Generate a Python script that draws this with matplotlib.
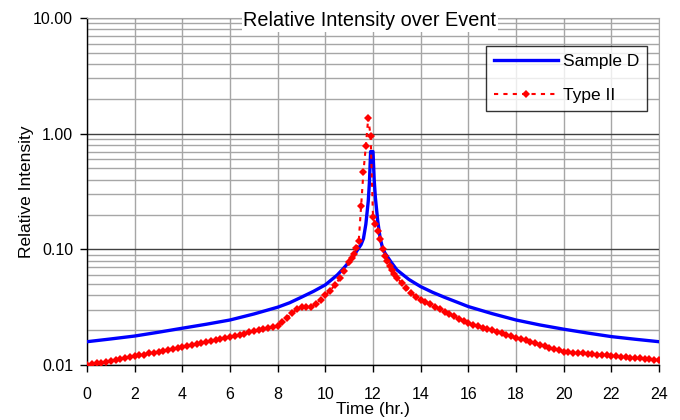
import matplotlib

matplotlib.use("Agg")
import matplotlib.pyplot as plt
from matplotlib.ticker import FixedLocator, LogLocator, NullFormatter

plt.rcParams["font.family"] = ["Liberation Sans", "DejaVu Sans"]

# Sample D (smooth curve, solid)
sample_t = [0, 1, 2, 3, 4, 5, 6, 7, 8, 8.5, 9, 9.5, 10, 10.5, 10.75, 11, 11.25,
            11.5, 11.6, 11.7, 11.8, 11.85, 11.9, 12.0, 12.05, 12.1, 12.2, 12.3,
            12.4, 12.5, 12.75, 13, 13.5, 14, 14.5, 15, 16, 17, 18, 19, 20, 21,
            22, 23, 24]
sample_v = [0.0159, 0.0168, 0.0178, 0.0192, 0.0208, 0.0225, 0.0245, 0.0276,
            0.0316, 0.0345, 0.0386, 0.0433, 0.0493, 0.0600, 0.0680, 0.0780,
            0.0920, 0.110, 0.124, 0.165, 0.26, 0.38, 0.70, 0.70, 0.40, 0.28,
            0.175, 0.125, 0.103, 0.093, 0.078, 0.0665, 0.055, 0.0476, 0.0425,
            0.0385, 0.032, 0.0278, 0.0245, 0.0222, 0.0204, 0.0189, 0.0176,
            0.0167, 0.0159]

# Type II (dense points with markers, dotted line)
type2_t = [0.0, 0.2, 0.4, 0.6, 0.8, 1.0, 1.2, 1.4, 1.6, 1.8,
           2.0, 2.2, 2.4, 2.6, 2.8, 3.0, 3.2, 3.4, 3.6, 3.8,
           4.0, 4.2, 4.4, 4.6, 4.8, 5.0, 5.2, 5.4, 5.6, 5.8,
           6.0, 6.2, 6.4, 6.6, 6.8, 7.0, 7.2, 7.4, 7.6, 7.8,
           8.0, 8.2, 8.4, 8.6, 8.8, 9.0, 9.2, 9.4, 9.6, 9.8,
           10.0, 10.2, 10.4, 10.6, 10.8,
           11.0, 11.1, 11.2, 11.3, 11.4, 11.5, 11.6, 11.7, 11.8, 11.9,
           12.0, 12.1, 12.2, 12.3, 12.4, 12.5, 12.6, 12.7, 12.8, 12.9,
           13.0, 13.2, 13.4, 13.6, 13.8,
           14.0, 14.2, 14.4, 14.6, 14.8, 15.0, 15.2, 15.4, 15.6, 15.8,
           16.0, 16.2, 16.4, 16.6, 16.8, 17.0, 17.2, 17.4, 17.6, 17.8,
           18.0, 18.2, 18.4, 18.6, 18.8, 19.0, 19.2, 19.4, 19.6, 19.8,
           20.0, 20.2, 20.4, 20.6, 20.8, 21.0, 21.2, 21.4, 21.6, 21.8,
           22.0, 22.2, 22.4, 22.6, 22.8, 23.0, 23.2, 23.4, 23.6, 23.8,
           24.0]
type2_v = [0.0100, 0.0102, 0.0104, 0.0105, 0.0107, 0.0109, 0.0111, 0.0113, 0.0115, 0.0117,
           0.0119, 0.0121, 0.0123, 0.0126, 0.0128, 0.0130, 0.0132, 0.0135, 0.0137, 0.0140,
           0.0142, 0.0145, 0.0148, 0.0151, 0.0155, 0.0158, 0.0161, 0.0165, 0.0168, 0.0172,
           0.0176, 0.0179, 0.0183, 0.0187, 0.0191, 0.0195, 0.0200, 0.0204, 0.0208, 0.0213,
           0.0218, 0.0237, 0.0257, 0.0279, 0.0303, 0.0316, 0.0316, 0.0316, 0.0340, 0.0368,
           0.0400, 0.0440, 0.0490, 0.0560, 0.0650,
           0.077, 0.084, 0.092, 0.102, 0.117, 0.238, 0.47, 0.78, 1.37, 0.95,
           0.19, 0.166, 0.143, 0.122, 0.101, 0.088, 0.079, 0.072, 0.066, 0.061,
           0.057, 0.051, 0.046, 0.042, 0.039,
           0.0368, 0.0351, 0.0335, 0.0319, 0.0304, 0.0290, 0.0277, 0.0264, 0.0252, 0.0240,
           0.0229, 0.0223, 0.0216, 0.0210, 0.0204, 0.0199, 0.0193, 0.0188, 0.0182, 0.0177,
           0.0172, 0.0168, 0.0163, 0.0158, 0.0154, 0.0150, 0.0145, 0.0141, 0.0137, 0.0134,
           0.0130, 0.0129, 0.0128, 0.0127, 0.0126, 0.0125, 0.0124, 0.0123, 0.0122, 0.0121,
           0.0120, 0.0119, 0.0118, 0.0117, 0.0116, 0.0115, 0.0114, 0.0113, 0.0112, 0.0111,
           0.0110]

x_ticks = list(range(0, 25, 2))
y_ticks = [0.01, 0.1, 1, 10]
y_labels = ["0.01", "0.10", "1.00", "10.00"]

fig = plt.figure(figsize=(6.8, 4.2), dpi=100)
ax = fig.add_axes([87 / 680, 55 / 420, 572 / 680, 347 / 420])

ax.plot(sample_t, sample_v, color="#0000ff", lw=2.4, label="Sample D", zorder=4)
ax.plot(type2_t, type2_v, color="#ff0000", lw=1.5, ls=(0, (2, 2.5)), marker="D",
        ms=4.3, mew=0, label="Type II", zorder=5)

ax.set_yscale("log")
ax.set_xlim(0, 24)
ax.set_ylim(0.01, 10)
ax.xaxis.set_major_locator(FixedLocator(x_ticks))
ax.set_xticklabels([str(t) for t in x_ticks])
ax.yaxis.set_major_locator(FixedLocator(y_ticks))
ax.set_yticklabels(y_labels)
ax.yaxis.set_minor_locator(LogLocator(base=10, subs=range(2, 10)))
ax.yaxis.set_minor_formatter(NullFormatter())
ax.tick_params(axis="both", which="major", direction="out", length=5,
               width=1, labelsize=11.5, colors="black")
ax.tick_params(axis="x", which="major", pad=10.5)
ax.tick_params(axis="y", which="major", pad=5)
ax.tick_params(axis="y", which="minor", length=0)

ax.grid(True, axis="x", which="major", color="#a6a6a6", lw=1)
ax.grid(True, axis="y", which="minor", color="#a6a6a6", lw=1)
ax.grid(True, axis="y", which="major", color="#404040", lw=1)
ax.set_axisbelow(True)
for side in ["top", "right"]:
    ax.spines[side].set_color("#a6a6a6")
for side in ["left", "bottom"]:
    ax.spines[side].set_color("black")
    ax.spines[side].set_linewidth(1)

ax.set_xlabel("Time (hr.)", fontsize=12.5, labelpad=0)
ax.set_ylabel("Relative Intensity", fontsize=12.5, labelpad=-1)

fig.text(370 / 680, 1 - 21 / 420, "Relative Intensity over Event", fontsize=14.3,
         ha="center", va="center",
         bbox=dict(facecolor="white", edgecolor="none", pad=1.5))

leg = ax.legend(loc="upper right", bbox_to_anchor=(647 / 680, 1 - 46 / 420),
                bbox_transform=fig.transFigure, fontsize=12.5, frameon=True,
                fancybox=False, handlelength=3.7, labelspacing=1.1,
                borderpad=0.45, handletextpad=0.25, borderaxespad=0)
leg.get_frame().set_edgecolor("black")
leg.get_frame().set_linewidth(1)

fig.savefig("out.png", dpi=100)
